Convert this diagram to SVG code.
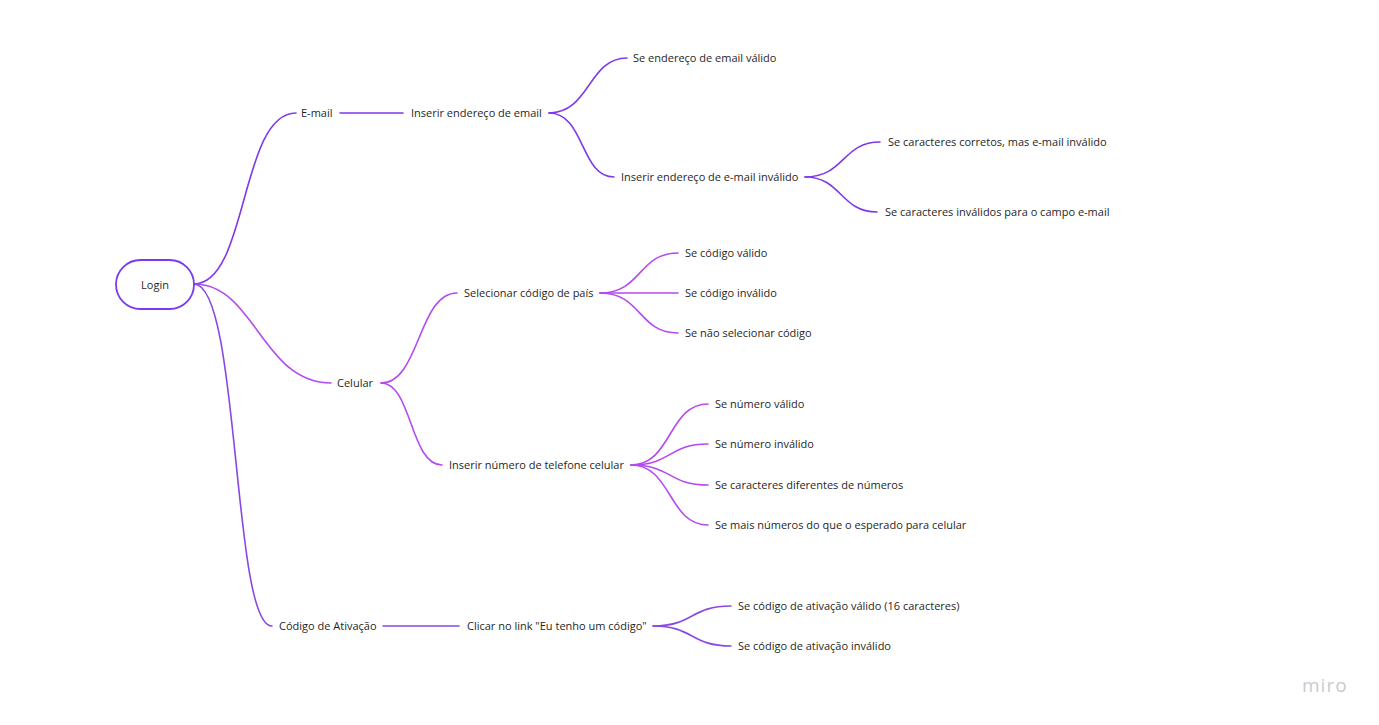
<svg xmlns="http://www.w3.org/2000/svg" width="1379" height="725" viewBox="0 0 1379 725">
  <style>
    .t { font-family: "Open Sans", "Noto Sans", "Liberation Sans", sans-serif; font-size: 11px; fill: #1f1f26; }
    .c { fill: none; stroke-width: 1.6; stroke-linecap: round; }
    .a { stroke: #7f3ae8; }
    .b { stroke: #b54bee; }
    .d { stroke: #8748e4; }
    .logo { font-family: "Open Sans", "Noto Sans", "Liberation Sans", sans-serif; font-size: 19px; fill: #c9c9d4; letter-spacing: 1px; }
  </style>
  <rect width="1379" height="725" fill="#ffffff"/>

  <g id="connectors">
    <!-- root to branches -->
    <path class="c a" d="M194,284 C248,284 240,113 296,113"/>
    <path class="c b" d="M194,284 C255,284 262,383 331,383"/>
    <path class="c d" d="M194,284 C240,284 232,626 272,626"/>
    <!-- E-mail branch -->
    <path class="c a" d="M340,113 L403,113"/>
    <path class="c a" d="M549,113 C590,113 588,58 627,58"/>
    <path class="c a" d="M549,113 C585,113 580,177 614,177"/>
    <path class="c a" d="M805,177 C845,177 842,142 880,142"/>
    <path class="c a" d="M805,177 C842,177 840,212 877,212"/>
    <!-- Celular branch -->
    <path class="c b" d="M381,383 C420,383 418,293 457,293"/>
    <path class="c b" d="M381,383 C412,383 410,465 442,465"/>
    <path class="c b" d="M600,293 C642,293 638,253 678,253"/>
    <path class="c b" d="M600,293 L678,293"/>
    <path class="c b" d="M600,293 C642,293 638,333 678,333"/>
    <path class="c b" d="M631,465 C672,465 668,404 708,404"/>
    <path class="c b" d="M631,465 C672,465 668,444 708,444"/>
    <path class="c b" d="M631,465 C672,465 668,485 708,485"/>
    <path class="c b" d="M631,465 C672,465 668,525 708,525"/>
    <!-- Código de Ativação branch -->
    <path class="c d" d="M383,626 L459,626"/>
    <path class="c d" d="M653,626 C694,626 690,606 731,606"/>
    <path class="c d" d="M653,626 C694,626 690,646 731,646"/>
  </g>

  <g id="login">
    <rect x="116" y="260" width="78" height="49" rx="24.5" fill="#ffffff" stroke="#7b3aed" stroke-width="1.8"/>
    <text class="t" x="155" y="289" text-anchor="middle">Login</text>
  </g>

  <g id="email"><text class="t" x="301" y="117">E-mail</text></g>
  <g id="inserir-email"><text class="t" x="411" y="117">Inserir endereço de email</text></g>
  <g id="email-valido"><text class="t" x="633" y="62">Se endereço de email válido</text></g>
  <g id="email-invalido"><text class="t" x="621" y="181">Inserir endereço de e-mail inválido</text></g>
  <g id="caracteres-corretos"><text class="t" x="888" y="146">Se caracteres corretos, mas e-mail inválido</text></g>
  <g id="caracteres-invalidos"><text class="t" x="885" y="216">Se caracteres inválidos para o campo e-mail</text></g>

  <g id="celular"><text class="t" x="337" y="387">Celular</text></g>
  <g id="codigo-pais"><text class="t" x="464" y="297">Selecionar código de país</text></g>
  <g id="codigo-valido"><text class="t" x="685" y="257">Se código válido</text></g>
  <g id="codigo-invalido"><text class="t" x="685" y="297">Se código inválido</text></g>
  <g id="nao-selecionar"><text class="t" x="685" y="337">Se não selecionar código</text></g>
  <g id="numero-telefone"><text class="t" x="449" y="469">Inserir número de telefone celular</text></g>
  <g id="numero-valido"><text class="t" x="715" y="408">Se número válido</text></g>
  <g id="numero-invalido"><text class="t" x="715" y="448">Se número inválido</text></g>
  <g id="caracteres-diferentes"><text class="t" x="715" y="489">Se caracteres diferentes de números</text></g>
  <g id="mais-numeros"><text class="t" x="715" y="529">Se mais números do que o esperado para celular</text></g>

  <g id="codigo-ativacao"><text class="t" x="279" y="630">Código de Ativação</text></g>
  <g id="clicar-link"><text class="t" x="467" y="630">Clicar no link "Eu tenho um código"</text></g>
  <g id="ativacao-valido"><text class="t" x="738" y="610">Se código de ativação válido (16 caracteres)</text></g>
  <g id="ativacao-invalido"><text class="t" x="738" y="650">Se código de ativação inválido</text></g>

  <text class="logo" x="1302" y="692">miro</text>
</svg>
